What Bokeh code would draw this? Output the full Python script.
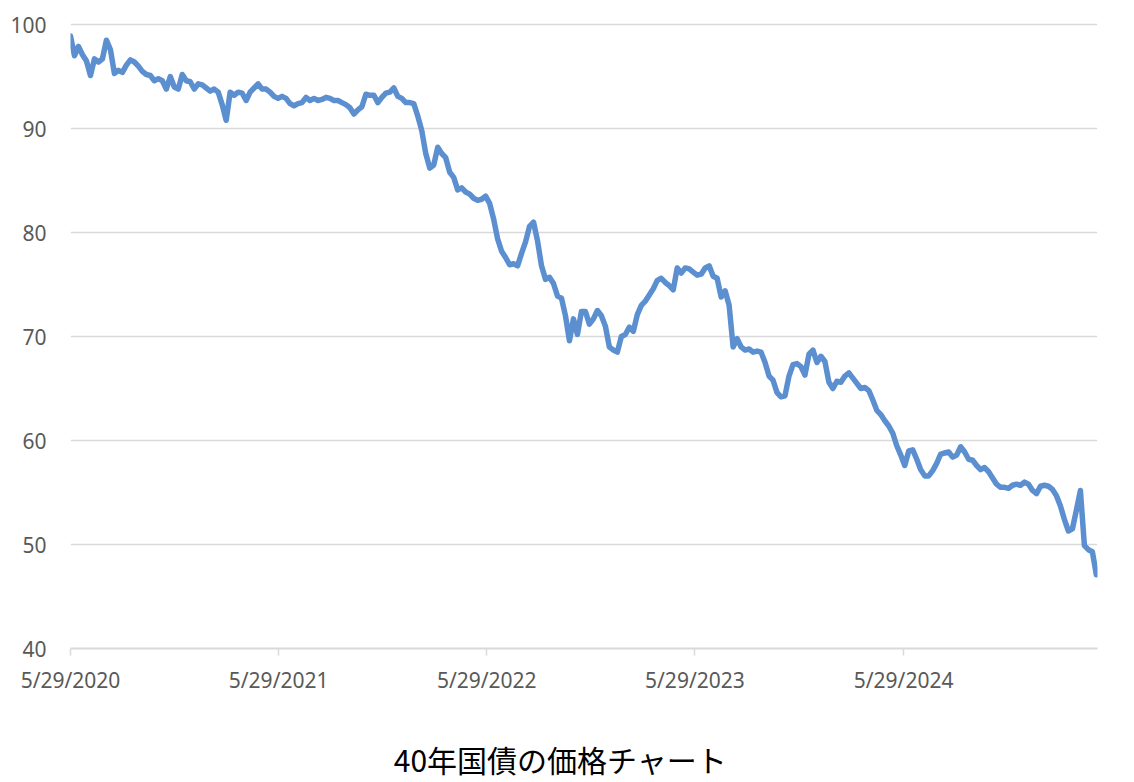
from datetime import datetime

import pandas as pd
from bokeh.core.properties import value
from bokeh.embed import file_html
from bokeh.layouts import column
from bokeh.models import (ColumnDataSource, CustomJSTickFormatter, FixedTicker,
                          Range1d)
from bokeh.plotting import figure
from bokeh.resources import INLINE

# Weekly closing prices of the 40-year JGB, starting 2020-05-29
start_date = "2020-05-29"
prices = [
    98.9, 97.0, 97.9, 97.1, 96.5, 95.1, 96.7, 96.4, 96.7, 98.5,
    97.6, 95.3, 95.6, 95.4, 96.1, 96.6, 96.4, 96.0, 95.5, 95.2,
    95.1, 94.6, 94.8, 94.6, 93.8, 95.0, 94.0, 93.8, 95.2, 94.6,
    94.5, 93.8, 94.3, 94.2, 93.9, 93.6, 93.8, 93.5, 92.3, 90.8,
    93.5, 93.2, 93.5, 93.4, 92.7, 93.5, 93.9, 94.3, 93.8, 93.8,
    93.5, 93.1, 92.9, 93.1, 92.9, 92.4, 92.2, 92.4, 92.5, 93.0,
    92.7, 92.9, 92.7, 92.8, 93.0, 92.9, 92.7, 92.7, 92.5, 92.3,
    92.0, 91.4, 91.8, 92.1, 93.3, 93.2, 93.2, 92.5, 93.0, 93.4,
    93.5, 93.9, 93.1, 92.9, 92.5, 92.5, 92.4, 91.2, 89.8, 87.6,
    86.2, 86.5, 88.2, 87.6, 87.2, 85.8, 85.3, 84.1, 84.3, 83.9,
    83.7, 83.3, 83.1, 83.2, 83.5, 82.8, 81.3, 79.4, 78.2, 77.6,
    76.9, 77.0, 76.8, 78.0, 79.1, 80.6, 81.0, 79.2, 76.8, 75.5,
    75.7, 75.1, 73.9, 73.7, 72.0, 69.6, 71.7, 70.2, 72.4, 72.4,
    71.2, 71.7, 72.5, 72.0, 71.0, 69.0, 68.7, 68.5, 70.0, 70.2,
    70.9, 70.5, 72.1, 73.0, 73.4, 74.0, 74.6, 75.4, 75.6, 75.2,
    74.9, 74.5, 76.6, 76.1, 76.6, 76.5, 76.2, 75.9, 76.0, 76.6,
    76.8, 75.8, 75.6, 73.8, 74.4, 73.0, 69.0, 69.8, 69.0, 68.7,
    68.8, 68.5, 68.6, 68.5, 67.5, 66.2, 65.8, 64.6, 64.2, 64.3,
    66.2, 67.3, 67.4, 67.1, 66.3, 68.3, 68.7, 67.5, 68.1, 67.6,
    65.6, 65.0, 65.7, 65.6, 66.2, 66.5, 66.0, 65.5, 65.0, 65.1,
    64.8, 63.9, 62.9, 62.5, 61.9, 61.4, 60.7, 59.5, 58.6, 57.6,
    59.0, 59.1, 58.2, 57.2, 56.6, 56.6, 57.1, 57.8, 58.7, 58.8,
    58.9, 58.4, 58.6, 59.4, 58.9, 58.2, 58.1, 57.6, 57.2, 57.4,
    57.0, 56.4, 55.8, 55.5, 55.5, 55.4, 55.7, 55.8, 55.7, 56.0,
    55.8, 55.2, 54.9, 55.6, 55.7, 55.6, 55.3, 54.7, 53.7, 52.4,
    51.3, 51.5, 53.3, 55.2, 49.9, 49.5, 49.3, 47.1,
]

tick_dates = ["2020-05-29", "2021-05-29", "2022-05-29", "2023-05-29", "2024-05-29"]
y_ticks = [40, 50, 60, 70, 80, 90, 100]
chart_title = "40年国債の価格チャート"

dates = pd.date_range(start_date, periods=len(prices), freq="7D")
source = ColumnDataSource(data=dict(date=dates, price=prices))

p = figure(
    width=1134, height=734,
    x_axis_type="datetime",
    x_range=Range1d(datetime(2020, 5, 29), datetime(2025, 5, 4)),
    # a little headroom so the 100 gridline is not clipped at the frame edge
    y_range=Range1d(40, 100.2),
    output_backend="svg", toolbar_location=None,
    min_border_left=70, min_border_right=37,
    min_border_top=22, min_border_bottom=86,
    outline_line_color=None, background_fill_color="white",
    border_fill_color="white",
)

p.line("date", "price", source=source, line_color="#5B8FD0",
       line_width=5.5, line_join="round", line_cap="round")

# horizontal grid only
p.xgrid.grid_line_color = None
p.ygrid.grid_line_color = "#D9D9D9"
p.ygrid.grid_line_width = 1.5

# y axis: labels only
p.yaxis.ticker = FixedTicker(ticks=y_ticks)
p.yaxis.axis_line_color = None
p.yaxis.major_tick_line_color = None
p.yaxis.minor_tick_line_color = None
p.yaxis.major_label_standoff = 18
p.yaxis.major_label_text_font = "Noto Sans"
p.yaxis.major_label_text_font_size = "21px"
p.yaxis.major_label_text_color = "#595959"

# x axis: yearly ticks on 5/29
tick_ms = [pd.Timestamp(d).value // 10**6 for d in tick_dates]
p.xaxis.ticker = FixedTicker(ticks=tick_ms)
p.xaxis.formatter = CustomJSTickFormatter(code="""
    const d = new Date(tick);
    return (d.getUTCMonth() + 1) + "/" + d.getUTCDate() + "/" + d.getUTCFullYear();
""")
p.xaxis.axis_line_color = "#D9D9D9"
p.xaxis.axis_line_width = 2
p.xaxis.major_tick_line_color = "#D9D9D9"
p.xaxis.major_tick_line_width = 1.5
p.xaxis.major_tick_in = 0
p.xaxis.major_tick_out = 7
p.xaxis.minor_tick_line_color = None
p.xaxis.major_label_standoff = 10
p.xaxis.major_label_text_font = "Noto Sans"
p.xaxis.major_label_text_font_size = "21px"
p.xaxis.major_label_text_color = "#595959"

# caption strip beneath the chart (pixel-sized ranges)
cap = figure(
    width=1134, height=48,
    x_range=Range1d(0, 1134), y_range=Range1d(0, 48),
    output_backend="svg", toolbar_location=None,
    min_border=0, outline_line_color=None,
    background_fill_color="white", border_fill_color="white",
)
cap.axis.visible = False
cap.grid.visible = False
cap.text(x=[541], y=[24], text=[chart_title], text_align="center",
         text_baseline="middle", text_font=value("Noto Sans CJK JP"),
         text_font_size="30px", text_color="#000000")

layout = column(p, cap, spacing=0)
open("out.html", "w").write(file_html(layout, INLINE))
